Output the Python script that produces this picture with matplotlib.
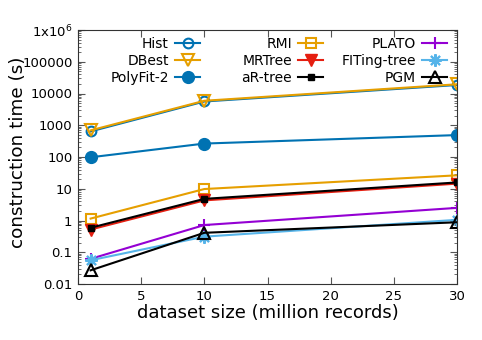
import matplotlib
matplotlib.use("Agg")
import matplotlib.pyplot as plt
from matplotlib.legend import Legend
from matplotlib.ticker import FixedLocator, LogLocator, NullFormatter

plt.rcParams['font.family'] = ['DejaVu Sans']

sizes = [1, 10, 30]
series_names = ["Hist", "DBest", "PolyFit-2", "RMI", "MRTree", "aR-tree",
                "PLATO", "FITing-tree", "PGM"]
hist = [640, 5600, 18500]
dbest = [690, 5900, 19500]
polyfit2 = [98, 265, 490]
rmi = [1.15, 9.8, 26.5]
mrtree = [0.52, 4.3, 14.5]
artree = [0.59, 4.8, 15.8]
plato = [0.062, 0.72, 2.5]
fiting = [0.056, 0.31, 1.05]
pgm = [0.027, 0.41, 0.88]
ytick_vals = [0.01, 0.1, 1, 10, 100, 1000, 10000, 100000, 1e6]
ytick_labels = ["0.01", "0.1", "1", "10", "100", "1000", "10000", "100000", r"1x10$^6$"]
xtick_vals = [0, 5, 10, 15, 20, 25, 30]

styles = [
    dict(color="#0072b2", marker="o", mfc="none", ms=7, mew=1.5),
    dict(color="#e69f00", marker="v", mfc="none", ms=8, mew=1.5),
    dict(color="#0072b2", marker="o", mfc="#0072b2", ms=8.5, mew=1.0),
    dict(color="#e69f00", marker="s", mfc="none", ms=7, mew=1.5),
    dict(color="#e51e10", marker="v", mfc="#e51e10", ms=8, mew=1.0),
    dict(color="#000000", marker="s", mfc="#000000", ms=5, mew=1.0),
    dict(color="#9400d3", marker="+", ms=9, mew=1.5),
    dict(color="#56b4e9", marker=(8, 2, 0), ms=9, mew=1.5),
    dict(color="#000000", marker="^", mfc="none", ms=8, mew=1.5),
]
data = [hist, dbest, polyfit2, rmi, mrtree, artree, plato, fiting, pgm]

W, H = 482, 340
fig = plt.figure(figsize=(W/100, H/100), dpi=100)
ax = fig.add_axes([78/W, 56/H, (457-78)/W, (284-30)/H])

lines = []
for name, vals, st in zip(series_names, data, styles):
    ln, = ax.plot(sizes, vals, label=name, lw=1.5, **st)
    lines.append(ln)

ax.set_yscale("log")
ax.set_xlim(0, 30)
ax.set_ylim(0.01, 1e6)
ax.yaxis.set_major_locator(FixedLocator(ytick_vals))
ax.set_yticklabels(ytick_labels)
ax.yaxis.set_minor_locator(LogLocator(base=10, subs=range(2, 10), numticks=20))
ax.yaxis.set_minor_formatter(NullFormatter())
ax.set_xticks(xtick_vals)
ax.tick_params(which="both", direction="in", top=True, right=True, labelsize=9.5,
               color="#555555", pad=4)
ax.tick_params(which="major", length=5, width=0.8)
ax.tick_params(which="minor", length=2.5, width=0.6)
for s in ax.spines.values():
    s.set_color("#333333")
ax.set_xlabel("dataset size (million records)", fontsize=13, labelpad=1)
ax.set_ylabel("construction time (s)", fontsize=13.2, va="center")
ax.yaxis.set_label_coords(-0.158, 0.52)

# three legend columns, text right-aligned with the key after it
col_right = [(200-78)/379, (323-78)/379, (447-78)/379]
top = (284-37)/254
for c in range(3):
    hs = lines[3*c:3*c+3]
    leg = Legend(ax, hs, [h.get_label() for h in hs], loc="upper right",
                 bbox_to_anchor=(col_right[c], top), bbox_transform=ax.transAxes,
                 frameon=False, markerfirst=False, fontsize=10, handlelength=1.8,
                 handletextpad=0.45, labelspacing=0.22, borderaxespad=0, borderpad=0)
    for vp in leg._legend_handle_box.get_children():
        vp.align = "right"
    ax.add_artist(leg)

fig.savefig("out.png", dpi=100)
